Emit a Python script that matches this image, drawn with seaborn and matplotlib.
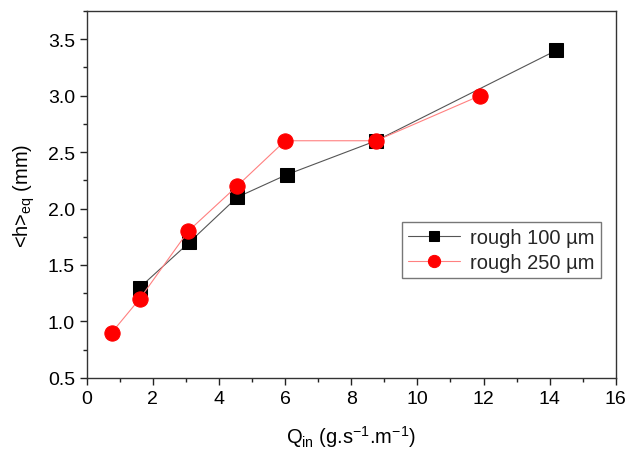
import numpy as np
import pandas as pd
import matplotlib
matplotlib.use('Agg')
import matplotlib.pyplot as plt
from matplotlib.ticker import MultipleLocator
import seaborn as sns

# data
q_100 = [1.6, 3.1, 4.55, 6.05, 8.75, 14.2]
h_100 = [1.3, 1.7, 2.1, 2.3, 2.6, 3.4]
q_250 = [0.75, 1.6, 3.07, 4.55, 6.0, 8.75, 11.9]
h_250 = [0.9, 1.2, 1.8, 2.2, 2.6, 2.6, 3.0]
labels = ['rough 100 µm', 'rough 250 µm']

sns.set_style('ticks')
plt.rcParams['font.family'] = ['Liberation Sans', 'DejaVu Sans']
plt.rcParams['mathtext.fontset'] = 'custom'
plt.rcParams['mathtext.rm'] = 'Liberation Sans'

df100 = pd.DataFrame({'q': q_100, 'h': h_100})
df250 = pd.DataFrame({'q': q_250, 'h': h_250})

fig, ax = plt.subplots(figsize=(6.29, 4.56), dpi=100)
fig.subplots_adjust(left=0.138, right=0.979, top=0.974, bottom=0.169)

sns.lineplot(data=df100, x='q', y='h', ax=ax, color='#555555', lw=0.8,
             marker='s', markersize=9.5, markerfacecolor='black',
             markeredgecolor='black', label=labels[0], sort=False)
sns.lineplot(data=df250, x='q', y='h', ax=ax, color='#ff8080', lw=0.8,
             marker='o', markersize=11, markerfacecolor='red',
             markeredgecolor='red', label=labels[1], sort=False)

ax.set_xlim(0, 16)
ax.set_ylim(0.5, 3.75)
ax.xaxis.set_major_locator(MultipleLocator(2))
ax.xaxis.set_minor_locator(MultipleLocator(1))
ax.yaxis.set_major_locator(MultipleLocator(0.5))
ax.yaxis.set_minor_locator(MultipleLocator(0.25))
ax.set_yticks(ax.get_yticks())
ax.set_yticklabels([f'{v:.1f}' for v in ax.get_yticks()])
ax.set_ylim(0.5, 3.75)
ax.tick_params(which='major', direction='out', length=5, width=1, labelsize=14,
               colors='#222222', labelcolor='black')
ax.tick_params(which='minor', direction='out', length=3, width=1, colors='#222222')
for s in ax.spines.values():
    s.set_visible(True)
    s.set_color('#333333')
    s.set_linewidth(1)

ax.set_xlabel(r'Q$_{\mathregular{in}}$ (g.s$^{\mathregular{-1}}$.m$^{\mathregular{-1}}$)',
              fontsize=14.5, labelpad=12, color='black')
ax.set_ylabel(r'<h>$_{\mathregular{eq}}$ (mm)', fontsize=14.5, labelpad=8, color='black')

leg = ax.legend(loc='upper right', bbox_to_anchor=(0.972, 0.425), borderaxespad=0,
                fontsize=14.5, frameon=True, fancybox=False, edgecolor='#555555',
                markerscale=0.8, handlelength=2.6, borderpad=0.3, labelspacing=0.3,
                handletextpad=0.5)
leg.get_frame().set_linewidth(1)

fig.savefig('out.png', dpi=100)
